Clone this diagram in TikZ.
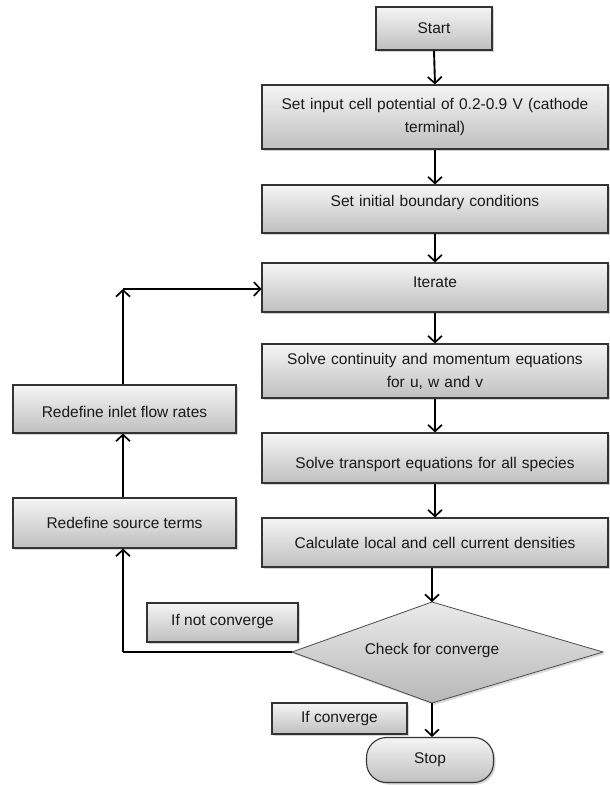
\documentclass[tikz,border=0pt]{standalone}
\usepackage{fontspec}
\setmainfont{Liberation Sans}
\usetikzlibrary{arrows.meta,shadows}
\begin{document}
\begin{tikzpicture}[x=1pt,y=-1pt,
  font=\fontsize{15.5}{23}\selectfont,
  box/.style={draw=black!80, line width=1.1pt, top color=black!4, bottom color=black!25,
    drop shadow={shadow xshift=2pt, shadow yshift=-2pt, opacity=0.35},
    align=center, inner sep=0pt, text=black!90},
  mainbox/.style={box, minimum width=346pt, text width=336pt},
  arr/.style={line width=1.9pt, -{Straight Barb[length=6.5pt,width=14pt,line width=1.7pt]}},
  ln/.style={line width=1.9pt},
  up/.style={text height=11pt, text depth=#1}
]
\useasboundingbox (0,0) rectangle (610,785);

\node[box, minimum width=116pt, minimum height=43pt] (start) at (434,28.5) {Start};
\node[mainbox, minimum height=64pt] (set) at (435,117) {Set input cell potential of 0.2-0.9 V (cathode\\terminal)};
\node[mainbox, minimum height=48pt, up=16pt] (init) at (435,209) {Set initial boundary conditions};
\node[mainbox, minimum height=49pt, up=11pt] (iter) at (435,287.5) {Iterate};
\node[mainbox, minimum height=54pt] (solve) at (435,371) {Solve continuity and momentum equations\\for u, w and v};
\node[mainbox, minimum height=50pt, text height=24pt, text depth=3pt] (trans) at (435,458) {Solve transport equations for all species};
\node[mainbox, minimum height=49pt] (calc) at (435,542.5) {Calculate local and cell current densities};

% decision
\coordinate (chkT) at (432,602);
\coordinate (chkR) at (603,652);
\coordinate (chkB) at (432,703);
\coordinate (chkL) at (292,652);
\draw[draw=black!70, line width=0.8pt, top color=black!8, bottom color=black!28,
  drop shadow={shadow xshift=2pt, shadow yshift=-2pt, opacity=0.3}]
  (chkT) -- (chkR) -- (chkB) -- (chkL) -- cycle;
\node[text=black!90] (chk) at (432,650) {Check for converge};

\node[box, minimum width=127pt, minimum height=45pt, rounded corners=20pt] (stop) at (430,760) {Stop};
\node[box, minimum width=135pt, minimum height=31pt] (ifc) at (339.5,718.5) {If converge};
\node[box, minimum width=151pt, minimum height=39pt, up=5pt] (ifnc) at (222.5,622.5) {If not converge};

\node[box, minimum width=223pt, minimum height=48pt, text height=20pt, text depth=3pt] (inlet) at (124.5,409) {Redefine inlet flow rates};
\node[box, minimum width=223pt, minimum height=50pt] (source) at (124.5,523) {Redefine source terms};

\coordinate (corner) at (123,652);
\coordinate (topc) at (123,289);

% main arrows
\draw[arr] (start.south) -- (set.north);
\draw[arr] (set.south) -- (init.north);
\draw[arr] (init.south) -- (iter.north);
\draw[arr] (iter.south) -- (solve.north);
\draw[arr] (solve.south) -- (trans.north);
\draw[arr] (trans.south) -- (calc.north);
\draw[arr] (calc.south -| chkT) -- (chkT);
\draw[arr] (chkB) -- (stop.north -| chkB);

% loop
\draw[ln] (chkL) -- (corner);
\draw[arr] (corner) -- (corner |- source.south);
\draw[arr] (source.north -| corner) -- (inlet.south -| corner);
\draw[arr] (inlet.north -| topc) -- (topc);
\draw[arr] (topc) -- (topc -| iter.west);
\end{tikzpicture}
\end{document}
